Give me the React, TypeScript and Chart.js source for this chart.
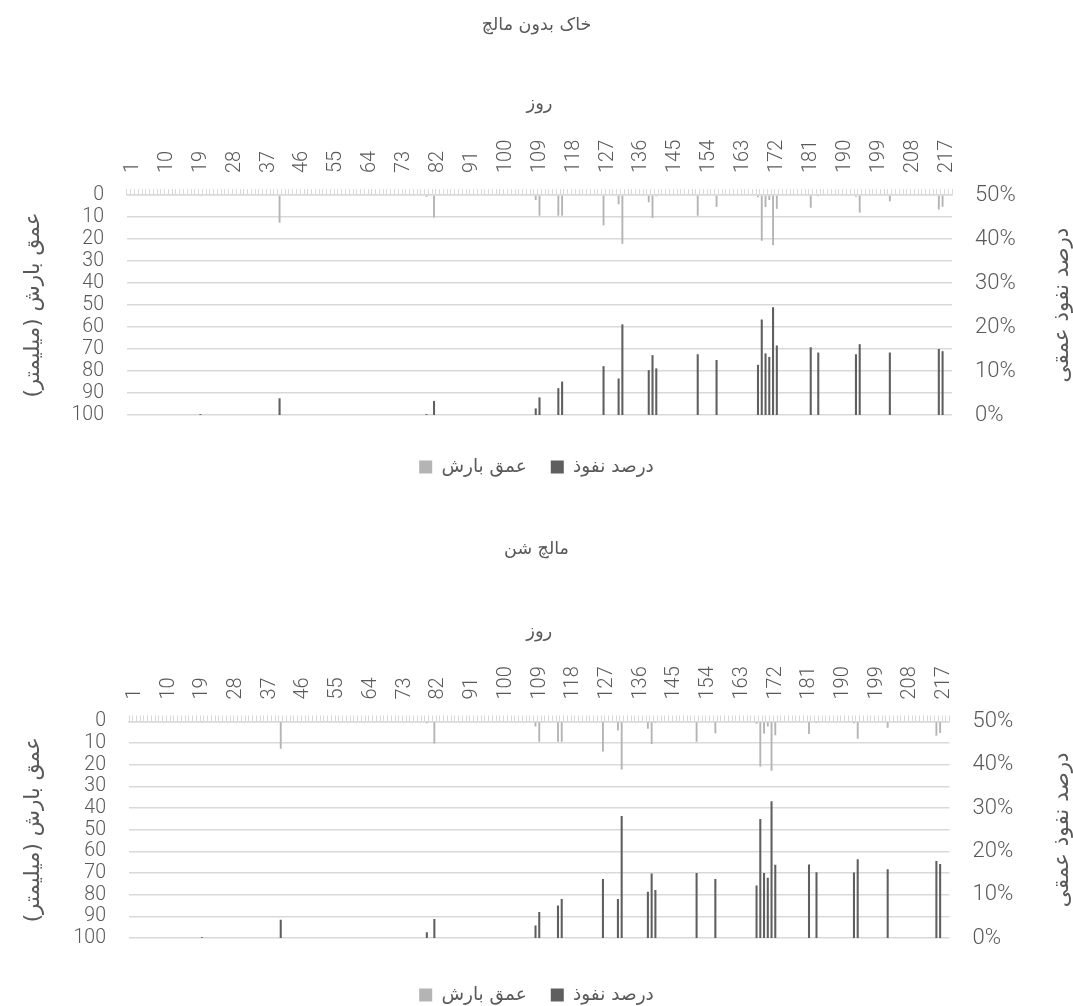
import React, { useEffect, useRef } from 'react';
import { Chart, registerables } from 'chart.js';

Chart.register(...registerables);

const PAGE_W = 1073;
const DAY_COUNT = 219;
const LABEL_STEP = 9;

// days on which something happened (1-based day numbers)
const eventDays = [20, 41, 80, 82, 109, 110, 115, 116, 127, 131, 132, 139, 140, 141, 152, 157, 168, 169, 170, 171, 172, 173, 182, 184, 194, 195, 203, 216, 217];
// precipitation depth (mm), same events in both charts
const rainMm = [0.5, 12.6, 0.8, 10.2, 2.3, 9.4, 9.4, 9.4, 13.8, 4.2, 22.2, 3.3, 10.4, 0.6, 9.4, 5.4, 1.0, 20.8, 5.5, 2.3, 22.8, 6.3, 5.8, 0.6, 0.8, 8.0, 2.9, 6.6, 5.3];
// deep penetration percentage, bare soil
const pctNoMulch = [0.2, 3.8, 0.2, 3.2, 1.5, 4.0, 6.1, 7.6, 11.1, 8.3, 20.6, 10.2, 13.6, 10.6, 13.8, 12.5, 11.4, 21.7, 14.0, 13.2, 24.5, 15.8, 15.4, 14.2, 13.8, 16.1, 14.2, 15.0, 14.5];
// deep penetration percentage, gravel mulch
const pctGravel = [0.2, 4.2, 1.3, 4.4, 2.9, 6.0, 7.5, 9.0, 13.6, 9.0, 28.2, 10.7, 14.9, 11.1, 15.0, 13.6, 12.1, 27.5, 15.0, 13.9, 31.6, 16.9, 17.0, 15.2, 15.1, 18.2, 15.9, 17.8, 17.1];

const titleNoMulch = 'خاک بدون مالچ';
const titleGravel = 'مالچ شن';
const xTitle = 'روز';
const leftTitle = 'عمق بارش (میلیمتر)';
const rightTitle = 'درصد نفوذ عمقی';
const legendRain = 'عمق بارش';
const legendPct = 'درصد نفوذ';

const TEXT = '#595959';
const GRID = '#d9d9d9';
const RAIN_COLOR = '#b4b4b4';
const PCT_COLOR = '#5f5f5f';
const NUM_FONT = 'Roboto, "DejaVu Sans", sans-serif';
const NUM_WEIGHT = '300';
const AR_FONT = '"DejaVu Sans", sans-serif';
const TITLE_SIZE = 17.5;
const XTITLE_SIZE = 18;
const AXIS_TITLE_SIZE = 21.5;
const LEG_SIZE = 18.5;

const fixLayoutPlugin = {
  id: 'fixLayout',
  afterInit(chart: any, _args: any, opts: any) {
    const lg = chart.legend;
    if (lg) {
      const orig = lg.fit.bind(lg);
      lg.fit = () => {
        orig();
        lg.height = opts.legendHeight;
      };
    }
  },
  afterDraw(chart: any, _args: any, opts: any) {
    const { ctx, chartArea } = chart;
    const cy = (chartArea.top + chartArea.bottom) / 2;
    ctx.save();
    ctx.font = `${opts.size}px ${AR_FONT}`;
    ctx.fillStyle = TEXT;
    ctx.textAlign = 'center';
    ctx.textBaseline = 'middle';
    for (const t of opts.titles) {
      ctx.save();
      ctx.translate(t.x, cy + (t.dy || 0));
      ctx.rotate(-Math.PI / 2);
      ctx.fillText(t.text, 0, 0);
      ctx.restore();
    }
    ctx.restore();
  },
};

type Cfg = {
  title: string;
  pct: number[];
  top: number;
  height: number;
  titleY: number;
  xTitleY: number;
  plotTop: number;
  plotBottom: number;
  plotLeft: number;
  plotRight: number;
  legendY: number;
};

function ChartPanel({ cfg }: { cfg: Cfg }) {
  const ref = useRef<HTMLCanvasElement>(null);
  useEffect(() => {
    const canvas = ref.current;
    if (!canvas) return;
    const days = Array.from({ length: DAY_COUNT }, (_, i) => String(i + 1));
    const rain: (number | null)[] = new Array(DAY_COUNT).fill(null);
    const pct: (number | null)[] = new Array(DAY_COUNT).fill(null);
    eventDays.forEach((d, i) => {
      rain[d - 1] = rainMm[i];
      pct[d - 1] = cfg.pct[i];
    });
    const titleLH = TITLE_SIZE * 1.2;
    const xTitleLH = XTITLE_SIZE * 1.2;
    const titleBoxBottom = cfg.titleY + titleLH / 2;
    const legendHeight = cfg.height - cfg.plotBottom;
    const itemH = LEG_SIZE;
    const legPad = 24;
    const legTitlePad = cfg.legendY - cfg.plotBottom - legPad - itemH / 2 - 1.2;

    const chart = new Chart(canvas, {
      type: 'bar',
      data: {
        labels: days,
        datasets: [
          {
            label: legendRain,
            data: rain,
            yAxisID: 'y',
            backgroundColor: RAIN_COLOR,
            grouped: false,
            barPercentage: 0.5,
            categoryPercentage: 1,
          } as any,
          {
            label: legendPct,
            data: pct,
            yAxisID: 'y1',
            backgroundColor: PCT_COLOR,
            grouped: false,
            barPercentage: 0.55,
            categoryPercentage: 1,
          } as any,
        ],
      },
      options: {
        responsive: false,
        animation: false,
        devicePixelRatio: 1,
        layout: { padding: 0 },
        scales: {
          x: {
            position: 'top',
            offset: true,
            grid: {
              display: true,
              drawOnChartArea: false,
              drawTicks: true,
              tickLength: 6,
              color: GRID,
              lineWidth: 1,
              offset: true,
            },
            border: { display: true, color: GRID, width: 1.5 },
            ticks: {
              autoSkip: false,
              minRotation: 90,
              maxRotation: 90,
              padding: 16,
              labelOffset: 28,
              color: TEXT,
              font: { family: NUM_FONT, size: 20, weight: NUM_WEIGHT },
              callback: (_v: any, i: number) => (i % LABEL_STEP === 0 ? days[i] : ''),
            },
            title: {
              display: true,
              text: xTitle,
              color: TEXT,
              font: { family: AR_FONT, size: XTITLE_SIZE },
              padding: { top: cfg.xTitleY - titleBoxBottom - xTitleLH / 2, bottom: 0 },
            },
            afterFit: (s: any) => {
              s.height = cfg.plotTop - titleBoxBottom;
            },
          },
          y: {
            position: 'left',
            reverse: true,
            min: 0,
            max: 100,
            ticks: {
              stepSize: 10,
              autoSkip: false,
              padding: 23,
              color: TEXT,
              font: { family: NUM_FONT, size: 19.5, weight: NUM_WEIGHT },
            },
            grid: { color: GRID, lineWidth: 1.5, drawTicks: false },
            border: { display: false },
            afterFit: (s: any) => {
              s.width = cfg.plotLeft;
            },
          },
          y1: {
            position: 'right',
            min: 0,
            max: 50,
            ticks: {
              stepSize: 10,
              autoSkip: false,
              padding: 23,
              color: TEXT,
              font: { family: NUM_FONT, size: 22, weight: NUM_WEIGHT },
              callback: (v: any) => `${v}%`,
            },
            grid: { display: false, drawTicks: false },
            border: { display: false },
            afterFit: (s: any) => {
              s.width = PAGE_W - cfg.plotRight;
            },
          },
        } as any,
        plugins: {
          title: {
            display: true,
            text: cfg.title,
            color: TEXT,
            font: { family: AR_FONT, size: TITLE_SIZE, weight: 'normal' },
            padding: { top: cfg.titleY - titleLH / 2, bottom: 0 },
          },
          legend: {
            display: true,
            position: 'bottom',
            labels: {
              color: TEXT,
              font: { family: AR_FONT, size: LEG_SIZE },
              boxWidth: 13,
              boxHeight: 13,
              padding: legPad,
            },
            title: {
              display: true,
              text: ' ',
              font: { size: 1 },
              padding: { top: legTitlePad, bottom: 0 },
            },
          },
          tooltip: { enabled: false },
          fixLayout: {
            legendHeight,
            size: AXIS_TITLE_SIZE,
            titles: [
              { x: 33, text: leftTitle },
              { x: 1062, text: rightTitle },
            ],
          },
        } as any,
      },
      plugins: [fixLayoutPlugin as any],
    });
    return () => chart.destroy();
  }, [cfg]);
  return (
    <canvas
      ref={ref}
      width={PAGE_W}
      height={cfg.height}
      style={{ position: 'absolute', left: 0, top: cfg.top, width: PAGE_W, height: cfg.height }}
    />
  );
}

const topCfg: Cfg = {
  title: titleNoMulch,
  pct: pctNoMulch,
  top: 0,
  height: 512,
  titleY: 25,
  xTitleY: 104,
  plotTop: 195,
  plotBottom: 415,
  plotLeft: 127,
  plotRight: 952,
  legendY: 467,
};

const bottomCfg: Cfg = {
  title: titleGravel,
  pct: pctGravel,
  top: 520,
  height: 486,
  titleY: 29,
  xTitleY: 112,
  plotTop: 201.5,
  plotBottom: 418,
  plotLeft: 129,
  plotRight: 949.5,
  legendY: 475,
};

export default function App() {
  return (
    <div style={{ position: 'absolute', left: 0, top: 0, width: PAGE_W, height: 1006, background: '#fff' }}>
      <ChartPanel cfg={topCfg} />
      <ChartPanel cfg={bottomCfg} />
    </div>
  );
}
